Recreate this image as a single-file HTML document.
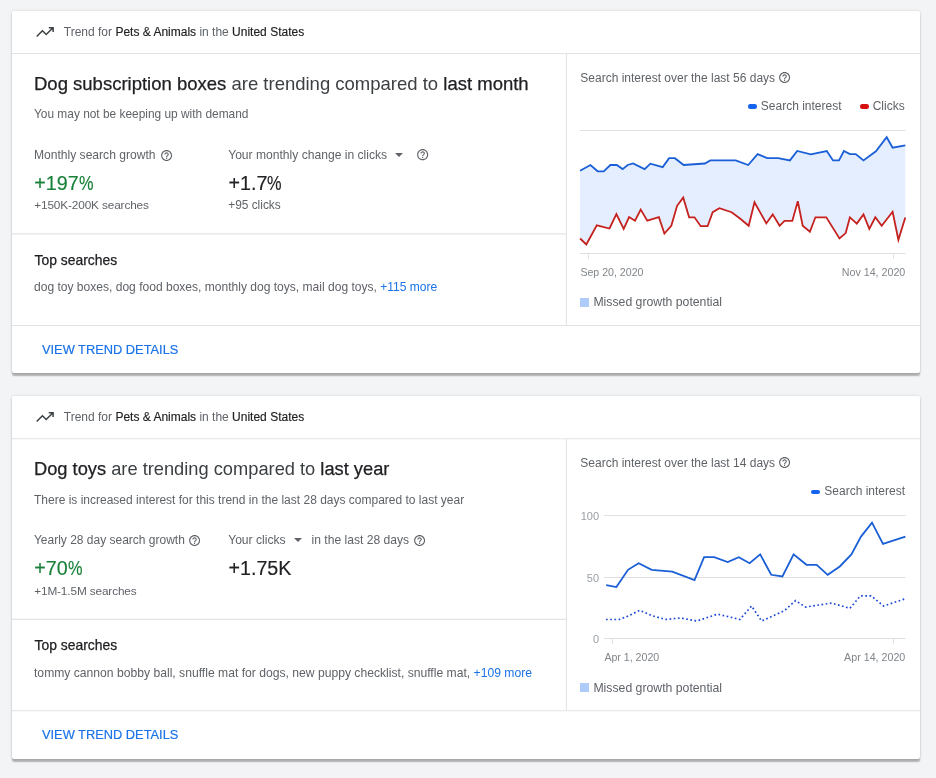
<!DOCTYPE html>
<html><head><meta charset="utf-8"><title>Trends</title>
<style>
html,body{margin:0;padding:0;}
body{width:936px;height:778px;background:#f3f4f6;position:relative;overflow:hidden;font-family:"Liberation Sans", Arial, sans-serif;}
.card{position:absolute;left:12px;width:908px;height:363px;background:#fff;border-radius:2px;box-shadow:0 2.5px 1.5px 0 rgba(0,0,0,.27),0 0 3px 0 rgba(60,64,67,.17);}
.hl{position:absolute;height:1px;background:#e8eaed;}
.vl{position:absolute;width:1px;background:#e8eaed;}
.t{position:absolute;white-space:nowrap;line-height:1;}
.t b{font-weight:normal;color:#202124;-webkit-text-stroke:0.25px currentColor;}
.h b{-webkit-text-stroke:0.15px currentColor;}
.m{-webkit-text-stroke:0.25px currentColor;}
.dash{position:absolute;width:9.2px;height:4.6px;border-radius:2.3px;}
.pct{display:inline-block;transform:scaleX(.83);transform-origin:0 0;}
.sq{position:absolute;width:9px;height:9px;background:#aecbfa;}
.chart{position:absolute;left:0;top:0;}
</style></head><body>
<div class="card" style="top:11px;height:362px"></div>
<svg width="30" height="20" viewBox="0 0 30 20" style="position:absolute;left:30px;top:20px"><path fill="none" stroke="#3c4043" stroke-width="1.5" d="M6.7 16.5L12.4 10.7 16.2 14.5 23 7.7M18.8 7.7H23.1V11.9"/></svg>
<div class="t h" style="left:63.8px;top:25.54px;font-size:12px;color:#5f6368;">Trend for <b>Pets &amp; Animals</b> in the <b>United States</b></div>
<div class="t " style="left:34.0px;top:74.54px;font-size:18.5px;color:#3c4043;"><b>Dog subscription boxes</b> are trending compared to <b>last month</b></div>
<div class="t " style="left:34.0px;top:108.73px;font-size:11.9px;color:#5f6368;">You may not be keeping up with demand</div>
<div class="t " style="left:33.9px;top:148.56px;font-size:12.1px;color:#5f6368;">Monthly search growth</div>
<svg viewBox="0 0 24 24" width="13.20" height="13.20" style="position:absolute;left:159.90px;top:148.50px"><path fill="#5f6368" d="M11 18h2v-2h-2v2zm1-16C6.480 2 2 6.48 2 12s4.48 10 10 10 10-4.48 10-10S17.52 2 12 2zm0 18c-4.41 0-8-3.59-8-8s3.59-8 8-8 8 3.59 8 8-3.59 8-8 8zm0-14c-2.21 0-4 1.790-4 4h2c0-1.1.9-2 2-2s2 .9 2 2c0 2-3 1.75-3 5h2c0-2.25 3-2.5 3-5 0-2.21-1.79-4-4-4z"/></svg>
<div class="t " style="left:34.3px;top:173.92px;font-size:19.7px;color:#188038;-webkit-text-stroke:0.15px #188038">+197<span class="pct">%</span></div>
<div class="t " style="left:34.2px;top:200.31px;font-size:11.8px;color:#5f6368;letter-spacing:-0.13px">+150K-200K searches</div>
<div class="t " style="left:228.2px;top:148.56px;font-size:12.1px;color:#5f6368;">Your monthly change in clicks</div>
<div style="position:absolute;left:395px;top:152.7px;width:0;height:0;border-left:4.0px solid transparent;border-right:4.0px solid transparent;border-top:4px solid #5f6368"></div>
<svg viewBox="0 0 24 24" width="13.32" height="13.32" style="position:absolute;left:415.94px;top:148.14px"><path fill="#5f6368" d="M11 18h2v-2h-2v2zm1-16C6.480 2 2 6.48 2 12s4.48 10 10 10 10-4.48 10-10S17.52 2 12 2zm0 18c-4.41 0-8-3.59-8-8s3.59-8 8-8 8 3.59 8 8-3.59 8-8 8zm0-14c-2.21 0-4 1.790-4 4h2c0-1.1.9-2 2-2s2 .9 2 2c0 2-3 1.75-3 5h2c0-2.25 3-2.5 3-5 0-2.21-1.79-4-4-4z"/></svg>
<div class="t " style="left:228.5px;top:173.92px;font-size:19.7px;color:#202124;-webkit-text-stroke:0.15px #202124">+1.7<span class="pct">%</span></div>
<div class="t " style="left:228.2px;top:200.23px;font-size:11.9px;color:#5f6368;">+95 clicks</div>
<div class="t " style="left:34.6px;top:253.73px;font-size:13.9px;color:#202124;-webkit-text-stroke:0.25px #202124">Top searches</div>
<div class="t " style="left:34.0px;top:281.40px;font-size:12.05px;color:#5f6368;">dog toy boxes, dog food boxes, monthly dog toys, mail dog toys, <span style="color:#1a73e8">+115 more</span></div>
<div class="t " style="left:41.6px;top:342.87px;font-size:13.5px;color:#1a73e8;transform:scaleX(0.95);transform-origin:0 0;-webkit-text-stroke:0.2px #1a73e8">VIEW TREND DETAILS</div>
<div class="t " style="left:580.3px;top:71.54px;font-size:12px;color:#5f6368;">Search interest over the last 56 days</div>
<svg viewBox="0 0 24 24" width="13.20" height="13.20" style="position:absolute;left:777.90px;top:70.90px"><path fill="#5f6368" d="M11 18h2v-2h-2v2zm1-16C6.480 2 2 6.48 2 12s4.48 10 10 10 10-4.48 10-10S17.52 2 12 2zm0 18c-4.41 0-8-3.59-8-8s3.59-8 8-8 8 3.59 8 8-3.59 8-8 8zm0-14c-2.21 0-4 1.790-4 4h2c0-1.1.9-2 2-2s2 .9 2 2c0 2-3 1.75-3 5h2c0-2.25 3-2.5 3-5 0-2.21-1.79-4-4-4z"/></svg>
<div class="dash" style="left:747.9px;top:104.2px;background:#1463ee"></div>
<div class="t " style="left:760.8px;top:99.84px;font-size:12px;color:#5f6368;">Search interest</div>
<div class="dash" style="left:859.6px;top:104.2px;background:#d61010"></div>
<div class="t " style="left:872.7px;top:99.84px;font-size:12px;color:#5f6368;">Clicks</div>
<div class="t " style="left:580.4px;top:267.03px;font-size:10.6px;color:#80868b;">Sep 20, 2020</div>
<div class="t" style="right:30.7px;top:266.94px;font-size:10.7px;color:#80868b;">Nov 14, 2020</div>
<div class="sq" style="left:580px;top:297.7px"></div>
<div class="t " style="left:593.4px;top:296.43px;font-size:12.25px;color:#5f6368;">Missed growth potential</div>
<div class="card" style="top:396px;height:363px"></div>
<svg width="30" height="20" viewBox="0 0 30 20" style="position:absolute;left:30px;top:405.4px"><path fill="none" stroke="#3c4043" stroke-width="1.5" d="M6.7 16.5L12.4 10.7 16.2 14.5 23 7.7M18.8 7.7H23.1V11.9"/></svg>
<div class="t h" style="left:63.8px;top:410.94px;font-size:12px;color:#5f6368;">Trend for <b>Pets &amp; Animals</b> in the <b>United States</b></div>
<div class="t " style="left:34.0px;top:460.13px;font-size:18.27px;color:#3c4043;"><b>Dog toys</b> are trending compared to <b>last year</b></div>
<div class="t " style="left:34.0px;top:493.84px;font-size:12.0px;color:#5f6368;">There is increased interest for this trend in the last 28 days compared to last year</div>
<div class="t " style="left:33.9px;top:534.04px;font-size:12px;color:#5f6368;">Yearly 28 day search growth</div>
<svg viewBox="0 0 24 24" width="13.20" height="13.20" style="position:absolute;left:187.70px;top:533.90px"><path fill="#5f6368" d="M11 18h2v-2h-2v2zm1-16C6.480 2 2 6.48 2 12s4.48 10 10 10 10-4.48 10-10S17.52 2 12 2zm0 18c-4.41 0-8-3.59-8-8s3.59-8 8-8 8 3.59 8 8-3.59 8-8 8zm0-14c-2.21 0-4 1.790-4 4h2c0-1.1.9-2 2-2s2 .9 2 2c0 2-3 1.75-3 5h2c0-2.25 3-2.5 3-5 0-2.21-1.79-4-4-4z"/></svg>
<div class="t " style="left:34.3px;top:559.32px;font-size:19.7px;color:#188038;-webkit-text-stroke:0.15px #188038">+70<span class="pct">%</span></div>
<div class="t " style="left:34.2px;top:585.71px;font-size:11.8px;color:#5f6368;letter-spacing:-0.13px">+1M-1.5M searches</div>
<div class="t " style="left:228.2px;top:533.96px;font-size:12.1px;color:#5f6368;">Your clicks</div>
<div style="position:absolute;left:294px;top:538.0999999999999px;width:0;height:0;border-left:4.0px solid transparent;border-right:4.0px solid transparent;border-top:4px solid #5f6368"></div>
<div class="t " style="left:311.6px;top:533.96px;font-size:12.1px;color:#5f6368;">in the last 28 days</div>
<svg viewBox="0 0 24 24" width="13.20" height="13.20" style="position:absolute;left:412.70px;top:533.90px"><path fill="#5f6368" d="M11 18h2v-2h-2v2zm1-16C6.480 2 2 6.48 2 12s4.48 10 10 10 10-4.48 10-10S17.52 2 12 2zm0 18c-4.41 0-8-3.59-8-8s3.59-8 8-8 8 3.59 8 8-3.59 8-8 8zm0-14c-2.21 0-4 1.790-4 4h2c0-1.1.9-2 2-2s2 .9 2 2c0 2-3 1.75-3 5h2c0-2.25 3-2.5 3-5 0-2.21-1.79-4-4-4z"/></svg>
<div class="t " style="left:228.5px;top:559.32px;font-size:19.7px;color:#202124;-webkit-text-stroke:0.15px #202124">+1.75K</div>
<div class="t " style="left:34.6px;top:639.13px;font-size:13.9px;color:#202124;-webkit-text-stroke:0.25px #202124">Top searches</div>
<div class="t " style="left:34.0px;top:666.72px;font-size:12.15px;color:#5f6368;">tommy cannon bobby ball, snuffle mat for dogs, new puppy checklist, snuffle mat, <span style="color:#1a73e8">+109 more</span></div>
<div class="t " style="left:41.6px;top:728.27px;font-size:13.5px;color:#1a73e8;transform:scaleX(0.95);transform-origin:0 0;-webkit-text-stroke:0.2px #1a73e8">VIEW TREND DETAILS</div>
<div class="t " style="left:580.3px;top:456.94px;font-size:12px;color:#5f6368;">Search interest over the last 14 days</div>
<svg viewBox="0 0 24 24" width="13.20" height="13.20" style="position:absolute;left:778.10px;top:456.30px"><path fill="#5f6368" d="M11 18h2v-2h-2v2zm1-16C6.480 2 2 6.48 2 12s4.48 10 10 10 10-4.48 10-10S17.52 2 12 2zm0 18c-4.41 0-8-3.59-8-8s3.59-8 8-8 8 3.59 8 8-3.59 8-8 8zm0-14c-2.21 0-4 1.790-4 4h2c0-1.1.9-2 2-2s2 .9 2 2c0 2-3 1.75-3 5h2c0-2.25 3-2.5 3-5 0-2.21-1.79-4-4-4z"/></svg>
<div class="dash" style="left:811.3px;top:489.59999999999997px;background:#1463ee"></div>
<div class="t " style="left:824.3px;top:485.24px;font-size:12px;color:#5f6368;">Search interest</div>
<div class="t" style="right:336.9px;top:511.29px;font-size:11px;color:#9aa0a6;">100</div>
<div class="t" style="right:336.9px;top:572.99px;font-size:11px;color:#9aa0a6;">50</div>
<div class="t" style="right:336.9px;top:633.89px;font-size:11px;color:#9aa0a6;">0</div>
<div class="t " style="left:604.4px;top:652.23px;font-size:10.6px;color:#80868b;">Apr 1, 2020</div>
<div class="t" style="right:30.7px;top:652.14px;font-size:10.7px;color:#80868b;">Apr 14, 2020</div>
<div class="sq" style="left:580px;top:683.0999999999999px"></div>
<div class="t " style="left:593.4px;top:681.83px;font-size:12.25px;color:#5f6368;">Missed growth potential</div>
<svg class="chart" width="936" height="778" viewBox="0 0 936 778">
<line x1="580" y1="130.5" x2="905.5" y2="130.5" stroke="#e0e0e0" stroke-width="1"/>
<line x1="580" y1="253.5" x2="905.5" y2="253.5" stroke="#e0e0e0" stroke-width="1"/>
<line x1="588.5" y1="254" x2="588.5" y2="259" stroke="#e3e3e3" stroke-width="1"/>
<line x1="893.5" y1="254" x2="893.5" y2="259" stroke="#e3e3e3" stroke-width="1"/>
<polygon points="580.1,170.8 590.4,165.0 597.7,171.3 603.7,171.3 610.4,165.0 616.8,165.0 622.6,169.1 627.7,165.0 633.1,163.5 644.6,169.1 650.4,163.7 662.7,167.1 669.1,158.2 674.9,158.2 683.6,165.0 704.9,163.5 710.3,160.4 735.7,160.4 748.2,165.0 757.6,154.1 767.2,158.1 778.1,158.1 789.9,160.4 797.2,151.0 810.8,154.4 826.8,151.0 833.0,160.4 839.0,160.4 843.9,151.0 849.9,154.1 855.7,154.1 863.5,160.4 875.9,151.3 886.7,137.2 892.6,147.7 905.3,145.3 905.3,217.6 898.4,239.8 892.6,211.8 881.7,225.8 875.3,217.3 869.3,228.9 863.5,214.4 856.8,223.6 849.9,217.3 845.7,233.1 839.5,238.5 826.3,217.3 815.4,217.3 809.9,231.8 802.7,225.8 797.8,201.3 792.3,220.9 784.5,220.9 779.6,225.8 772.7,214.4 766.3,223.4 754.5,202.2 748.7,225.8 740.0,218.5 731.6,212.2 719.4,208.2 712.7,212.2 707.6,226.2 700.7,226.2 694.5,217.3 689.1,217.3 683.2,197.6 677.1,205.8 671.3,225.8 664.4,233.6 658.9,217.1 647.3,220.7 640.7,209.5 635.0,220.7 629.1,217.1 623.7,228.9 616.4,214.0 609.5,228.5 596.8,225.4 586.3,244.5 580.1,238.5" fill="#e5eeff"/>
<polyline points="580.1,170.8 590.4,165.0 597.7,171.3 603.7,171.3 610.4,165.0 616.8,165.0 622.6,169.1 627.7,165.0 633.1,163.5 644.6,169.1 650.4,163.7 662.7,167.1 669.1,158.2 674.9,158.2 683.6,165.0 704.9,163.5 710.3,160.4 735.7,160.4 748.2,165.0 757.6,154.1 767.2,158.1 778.1,158.1 789.9,160.4 797.2,151.0 810.8,154.4 826.8,151.0 833.0,160.4 839.0,160.4 843.9,151.0 849.9,154.1 855.7,154.1 863.5,160.4 875.9,151.3 886.7,137.2 892.6,147.7 905.3,145.3" fill="none" stroke="#1a5fd6" stroke-width="1.8" stroke-linejoin="miter"/>
<polyline points="580.1,238.5 586.3,244.5 596.8,225.4 609.5,228.5 616.4,214.0 623.7,228.9 629.1,217.1 635.0,220.7 640.7,209.5 647.3,220.7 658.9,217.1 664.4,233.6 671.3,225.8 677.1,205.8 683.2,197.6 689.1,217.3 694.5,217.3 700.7,226.2 707.6,226.2 712.7,212.2 719.4,208.2 731.6,212.2 740.0,218.5 748.7,225.8 754.5,202.2 766.3,223.4 772.7,214.4 779.6,225.8 784.5,220.9 792.3,220.9 797.8,201.3 802.7,225.8 809.9,231.8 815.4,217.3 826.3,217.3 839.5,238.5 845.7,233.1 849.9,217.3 856.8,223.6 863.5,214.4 869.3,228.9 875.3,217.3 881.7,225.8 892.6,211.8 898.4,239.8 905.3,217.6" fill="none" stroke="#c5221f" stroke-width="1.8" stroke-linejoin="miter"/>
<line x1="604" y1="515.5" x2="905.5" y2="515.5" stroke="#e0e0e0" stroke-width="1"/>
<line x1="604" y1="577.5" x2="905.5" y2="577.5" stroke="#e0e0e0" stroke-width="1"/>
<line x1="604" y1="638.5" x2="905.5" y2="638.5" stroke="#e0e0e0" stroke-width="1"/>
<line x1="612.5" y1="639" x2="612.5" y2="644" stroke="#e3e3e3" stroke-width="1"/>
<line x1="893.5" y1="639" x2="893.5" y2="644" stroke="#e3e3e3" stroke-width="1"/>
<polyline points="606.2,585.2 616.4,587.1 628.0,569.8 638.6,563.2 651.7,569.8 672.3,571.7 694.5,580.0 704.1,557.2 714.2,557.2 727.7,562.1 738.8,557.2 749.6,563.2 760.2,554.4 771.2,574.8 782.4,576.5 793.6,554.4 806.5,564.8 816.7,564.8 827.7,574.8 839.8,566.5 851.4,554.5 861.0,536.6 872.0,522.7 883.0,543.9 905.4,536.6" fill="none" stroke="#1a5fd6" stroke-width="1.8" stroke-linejoin="miter"/>
<polyline points="606.0,619.5 619.3,619.5 629.0,615.7 639.6,610.3 652.1,615.7 665.6,619.5 680.6,618.0 696.8,621.0 717.6,614.1 739.8,619.5 751.6,606.0 761.6,621.0 784.3,610.8 795.5,600.6 805.5,607.0 831.6,603.1 849.9,608.3 860.5,595.8 871.1,595.8 883.6,606.0 905.4,598.7" fill="none" stroke="#1e48d6" stroke-width="1.7" stroke-dasharray="1.7 2.5"/>
<g stroke="#e2e3e5" stroke-width="1.1"><line x1="12" y1="53.5" x2="920" y2="53.5"/><line x1="12" y1="325.5" x2="920" y2="325.5"/><line x1="12" y1="233.9" x2="566" y2="233.9"/><line x1="566.4" y1="54.0" x2="566.4" y2="325.0"/><line x1="12" y1="438.8" x2="920" y2="438.8"/><line x1="12" y1="710.8" x2="920" y2="710.8"/><line x1="12" y1="619.4" x2="566" y2="619.4"/><line x1="566.4" y1="439.3" x2="566.4" y2="710.3"/></g>
</svg>
</body></html>
